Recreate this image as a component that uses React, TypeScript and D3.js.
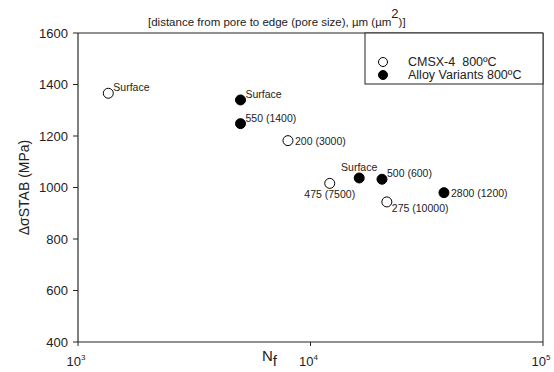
import React from "react";
import * as d3 from "d3";

// CMSX-4 800ºC (open circles)
const cmsxCycles = [1350, 8000, 12100, 21300];
const cmsxStress = [1366, 1182, 1016, 944];
const cmsxLabels = ["Surface", "200 (3000)", "475 (7500)", "275 (10000)"];

// Alloy Variants 800ºC (filled circles)
const alloyCycles = [5000, 5000, 16200, 20300, 37500];
const alloyStress = [1340, 1248, 1037, 1032, 980];
const alloyLabels = ["Surface", "550 (1400)", "Surface", "500 (600)", "2800 (1200)"];

const yTicks = [400, 600, 800, 1000, 1200, 1400, 1600];
const xTicks = [1e3, 1e4, 1e5];
const legendLabels = ["CMSX-4  800ºC", "Alloy Variants 800ºC"];

// where each annotation sits relative to its marker
const cmsxPlace = ["upRight", "right", "below", "downRight"];
const alloyPlace = ["upRight", "upRight", "above", "upRight", "right"];

const W = 554, H = 372;
const m = { left: 78, right: 11, top: 33, bottom: 30 };
const font = "'Liberation Sans', Arial, sans-serif";

function labelPos(p: string, cx: number, cy: number) {
  if (p === "upRight") return { x: cx + 5, y: cy - 2, anchor: "start" };
  if (p === "right") return { x: cx + 7, y: cy + 4, anchor: "start" };
  if (p === "below") return { x: cx, y: cy + 15, anchor: "middle" };
  if (p === "above") return { x: cx, y: cy - 7, anchor: "middle" };
  return { x: cx + 5, y: cy + 10, anchor: "start" };
}

export default function App() {
  const x = d3.scaleLog().domain([1e3, 1e5]).range([m.left, W - m.right]);
  const y = d3.scaleLinear().domain([400, 1600]).range([H - m.bottom, m.top]);
  const [x0, x1] = x.range();
  const [y0, y1] = y.range();

  const series = [
    { xs: cmsxCycles, ys: cmsxStress, labels: cmsxLabels, place: cmsxPlace, fill: "white" },
    { xs: alloyCycles, ys: alloyStress, labels: alloyLabels, place: alloyPlace, fill: "black" },
  ];

  return (
    <svg width={W} height={H} style={{ position: "absolute", left: 0, top: 0 }} fontFamily={font}>
      <rect width={W} height={H} fill="white" />
      {/* frame */}
      <line x1={x0} x2={x0} y1={y1} y2={y0} stroke="#555" strokeWidth={1.5} />
      <line x1={x0} x2={x1} y1={y0} y2={y0} stroke="#222" strokeWidth={1} />
      <line x1={x1} x2={x1} y1={y1} y2={y0} stroke="#222" strokeWidth={1} />
      <line x1={x0} x2={x1} y1={y1} y2={y1} stroke="#222" strokeWidth={1} />

      {yTicks.map((t) => (
        <g key={t}>
          <line x1={x0 - 5} x2={x0} y1={y(t)} y2={y(t)} stroke="#222" />
          <text x={x0 - 10} y={y(t) + 4.5} textAnchor="end" fontSize={13} fill="#222">{t}</text>
        </g>
      ))}
      {xTicks.map((t) => (
        <g key={t}>
          <line x1={x(t)} x2={x(t)} y1={y0} y2={y0 + 4} stroke="#222" />
          <text x={x(t) - 2} y={y0 + 24} textAnchor="middle" fontSize={13} fill="#222">
            10<tspan fontSize={8} dy={-6}>{Math.round(Math.log10(t))}</tspan>
          </text>
        </g>
      ))}

      {/* axis titles */}
      <text x={262} y={y0 + 19} fontSize={15} fill="#222">
        N<tspan fontSize={15} dy={5}>f</tspan>
      </text>
      <text transform={`translate(29,${(y0 + y1) / 2}) rotate(-90)`} textAnchor="middle" fontSize={14} fill="#222">
        ΔσSTAB (MPa)
      </text>
      <text x={148} y={26} fontSize={11.5} fill="#222" style={{ whiteSpace: "pre" }}>
        [distance from pore to edge (pore size), µm (µm<tspan fontSize={13} dy={-8}>2</tspan><tspan dy={8}>)]</tspan>
      </text>

      {/* legend */}
      <rect x={365} y={y1} width={x1 - 365} height={51} fill="white" stroke="#222" />
      {legendLabels.map((l, i) => (
        <g key={l}>
          <circle cx={383} cy={62 + i * 13} r={4.5} fill={i === 0 ? "white" : "black"} stroke="black" />
          <text x={408} y={66 + i * 13} fontSize={12.5} fill="#222" style={{ whiteSpace: "pre" }}>{l}</text>
        </g>
      ))}

      {/* points */}
      {series.map((s, si) =>
        s.xs.map((v, i) => {
          const cx = x(v), cy = y(s.ys[i]);
          const lp = labelPos(s.place[i], cx, cy);
          return (
            <g key={`${si}-${i}`}>
              <circle cx={cx} cy={cy} r={5} fill={s.fill} stroke="black" strokeWidth={1} />
              <text x={lp.x} y={lp.y} textAnchor={lp.anchor} fontSize={10.5} fill="#222">{s.labels[i]}</text>
            </g>
          );
        })
      )}
    </svg>
  );
}
